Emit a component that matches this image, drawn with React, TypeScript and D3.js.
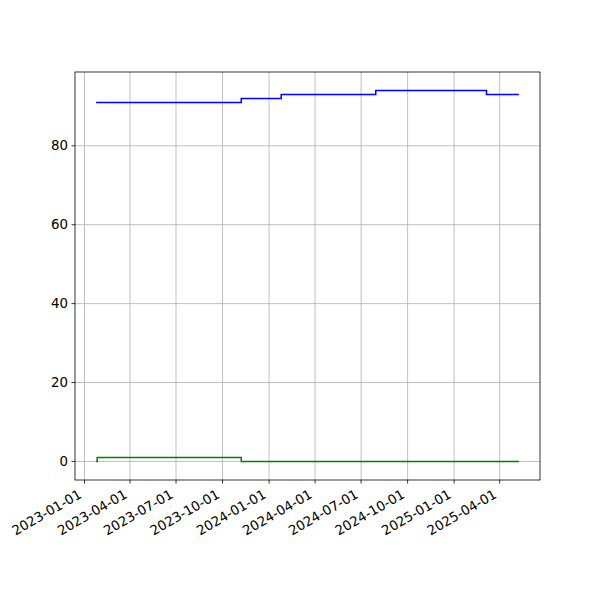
import React from "react";
import * as d3 from "d3";

const blueDates = ["2023-01-24", "2023-11-07", "2024-01-25", "2024-07-30", "2025-03-06", "2025-05-09"];
const blueValues = [91, 92, 93, 94, 93, 93];
const greenDates = ["2023-01-24", "2023-01-26", "2023-11-07", "2025-05-09"];
const greenValues = [0, 1, 0, 0];
const xTickLabels = ["2023-01-01", "2023-04-01", "2023-07-01", "2023-10-01", "2024-01-01", "2024-04-01", "2024-07-01", "2024-10-01", "2025-01-01", "2025-04-01"];
const yTicks = [0, 20, 40, 60, 80];

const W = 600, H = 600;
const L = 75, R = 540, T = 72, B = 480;

export default function App() {
  const parse = d3.utcParse("%Y-%m-%d");
  const allDates = [...blueDates, ...greenDates].map((s) => parse(s)!.getTime());
  const x0 = d3.min(allDates)!, x1 = d3.max(allDates)!;
  const xm = (x1 - x0) * 0.05;
  const x = d3.scaleUtc().domain([new Date(x0 - xm), new Date(x1 + xm)]).range([L, R]);
  const allV = [...blueValues, ...greenValues];
  const y0 = d3.min(allV)!, y1 = d3.max(allV)!;
  const ym = (y1 - y0) * 0.05;
  const y = d3.scaleLinear().domain([y0 - ym, y1 + ym]).range([B, T]);

  const line = d3
    .line<[Date, number]>()
    .x((d) => x(d[0]))
    .y((d) => y(d[1]))
    .curve(d3.curveStepAfter);

  const blue = blueDates.map((s, i) => [parse(s)!, blueValues[i]] as [Date, number]);
  const green = greenDates.map((s, i) => [parse(s)!, greenValues[i]] as [Date, number]);
  const font = "DejaVu Sans, sans-serif";

  return (
    <svg width={W} height={H} style={{ display: "block", position: "absolute", left: 0, top: 0 }}>
      <rect x={0} y={0} width={W} height={H} fill="white" />
      {xTickLabels.map((t) => {
        const xx = x(parse(t)!);
        return <line key={"gx" + t} x1={xx} x2={xx} y1={T} y2={B} stroke="#b0b0b0" strokeWidth={0.8} />;
      })}
      {yTicks.map((t) => (
        <line key={"gy" + t} x1={L} x2={R} y1={y(t)} y2={y(t)} stroke="#b0b0b0" strokeWidth={0.8} />
      ))}
      <path d={line(blue)!} fill="none" stroke="#0000ff" strokeWidth={1.5} />
      <path d={line(green)!} fill="none" stroke="#008000" strokeWidth={1.5} />
      <rect x={L} y={T} width={R - L} height={B - T} fill="none" stroke="black" strokeWidth={0.8} />
      {xTickLabels.map((t) => {
        const xx = x(parse(t)!);
        return (
          <g key={"xt" + t}>
            <line x1={xx} x2={xx} y1={B} y2={B + 3.5} stroke="black" strokeWidth={0.8} />
            <text
              transform={`translate(${xx - 2},${B + 17}) rotate(-30)`}
              textAnchor="end"
              fontFamily={font}
              fontSize={13.33}
              fill="black"
            >
              {t}
            </text>
          </g>
        );
      })}
      {yTicks.map((t) => (
        <g key={"yt" + t}>
          <line x1={L - 3.5} x2={L} y1={y(t)} y2={y(t)} stroke="black" strokeWidth={0.8} />
          <text x={L - 7} y={y(t)} dy="0.35em" textAnchor="end" fontFamily={font} fontSize={13.33} fill="black">
            {t}
          </text>
        </g>
      ))}
    </svg>
  );
}
